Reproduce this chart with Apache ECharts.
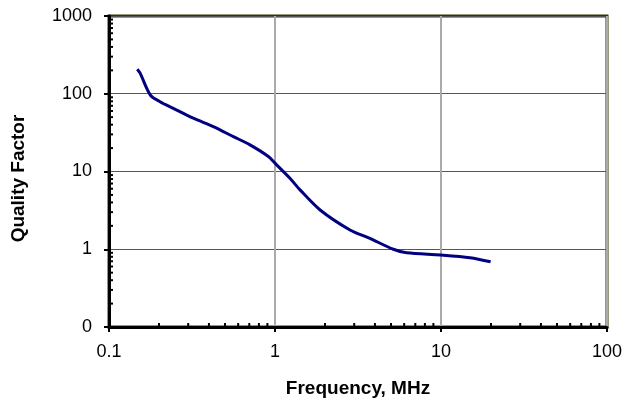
<!DOCTYPE html>
<html>
<head>
<meta charset="utf-8">
<script src="https://cdn.jsdelivr.net/npm/echarts@6/dist/echarts.min.js"></script>
<style>
  html, body { margin: 0; padding: 0; background: #fff; }
  #chart { width: 637px; height: 403px; }
</style>
</head>
<body>
<div id="chart"></div>
<script>
// frequency (MHz) and quality factor
var freq = [0.148, 0.154, 0.177, 0.203, 0.244, 0.322, 0.425, 0.561, 0.707, 0.912, 1.0, 1.23, 1.415, 1.87, 2.83, 3.73, 5.16, 6.21, 9.96, 14.96, 19.9];
var quality = [207, 184, 97, 79, 65, 48.5, 37.8, 28.1, 22, 15.6, 12.8, 8.2, 5.8, 3.2, 1.77, 1.38, 1.0, 0.90, 0.845, 0.78, 0.69];

// minor tick positions (2..9 in each decade)
var xMinorTicks = [0.2, 0.3, 0.4, 0.5, 0.6, 0.7, 0.8, 0.9, 2, 3, 4, 5, 6, 7, 8, 9, 20, 30, 40, 50, 60, 70, 80, 90];
var yMinorTicks = [0.2, 0.3, 0.4, 0.5, 0.6, 0.7, 0.8, 0.9, 2, 3, 4, 5, 6, 7, 8, 9, 20, 30, 40, 50, 60, 70, 80, 90, 200, 300, 400, 500, 600, 700, 800, 900];

var chart = echarts.init(document.getElementById("chart"));

function minorTick(horizontal) {
  return function (params, api) {
    var v = api.value(0);
    var p = horizontal ? api.coord([v, 0.1]) : api.coord([0.1, v]);
    return {
      type: "line",
      shape: horizontal
        ? { x1: p[0], y1: p[1], x2: p[0], y2: p[1] - 4 }
        : { x1: p[0], y1: p[1], x2: p[0] + 4, y2: p[1] },
      style: { stroke: "#000", lineWidth: 2 }
    };
  };
}

chart.setOption({
  animation: false,
  grid: {
    left: 109,
    right: 30,
    top: 16,
    bottom: 76,
    show: true,
    borderColor: "#333300",
    borderWidth: 3
  },
  xAxis: {
    type: "log",
    logBase: 10,
    min: 0.1,
    max: 100,
    name: "Frequency, MHz",
    nameLocation: "middle",
    nameGap: 52,
    nameTextStyle: { fontFamily: "Liberation Sans", fontSize: 19, fontWeight: "bold", color: "#000" },
    axisLine: { lineStyle: { color: "#000", width: 3 } },
    axisTick: { inside: false, length: 5, lineStyle: { color: "#000", width: 2 } },
    axisLabel: {
      margin: 16,
      fontFamily: "Liberation Sans",
      fontSize: 18,
      color: "#000",
      formatter: function (v) { return String(v); }
    },
    splitLine: { show: true, lineStyle: { color: "#aaaaaa", width: 2 } }
  },
  yAxis: {
    type: "log",
    logBase: 10,
    min: 0.1,
    max: 1000,
    name: "Quality Factor",
    nameLocation: "middle",
    nameGap: 81,
    nameTextStyle: { fontFamily: "Liberation Sans", fontSize: 19, fontWeight: "bold", color: "#000", padding: [0, 14, 0, 0] },
    axisLine: { lineStyle: { color: "#000", width: 3 } },
    axisTick: { inside: false, length: 5, lineStyle: { color: "#000", width: 2 } },
    axisLabel: {
      margin: 17,
      fontFamily: "Liberation Sans",
      fontSize: 18,
      color: "#000",
      formatter: function (v) { return v < 1 ? "0" : String(Math.round(v)); }
    },
    splitLine: { show: true, lineStyle: { color: "#555555", width: 1 } }
  },
  series: [
    {
      type: "custom",
      renderItem: minorTick(true),
      data: xMinorTicks.map(function (v) { return [v]; }),
      clip: false,
      silent: true,
      z: 5
    },
    {
      type: "custom",
      renderItem: minorTick(false),
      data: yMinorTicks.map(function (v) { return [v]; }),
      clip: false,
      silent: true,
      z: 5
    },
    {
      type: "line",
      data: freq.map(function (f, i) { return [f, quality[i]]; }),
      smooth: 0.3,
      showSymbol: false,
      lineStyle: { color: "#000080", width: 3 },
      z: 3
    }
  ]
});
</script>
</body>
</html>
